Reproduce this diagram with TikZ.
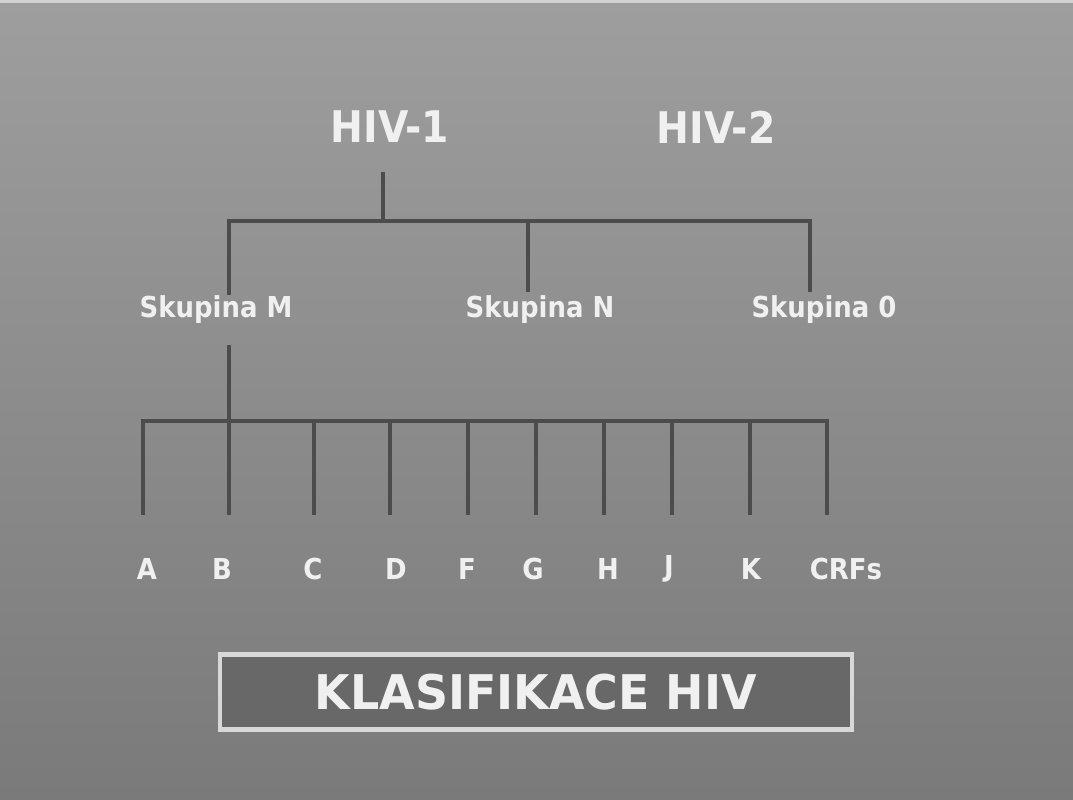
\documentclass[tikz,border=0pt]{standalone}
\usepackage{fontspec}
\newfontfamily\slidefont{DejaVu Sans}[FakeStretch=0.9]
\newfontfamily\titlefont{DejaVu Sans}[FakeStretch=0.96]
\definecolor{bgtop}{HTML}{9E9E9E}
\definecolor{bgbot}{HTML}{7A7A7A}
\definecolor{branch}{HTML}{4C4C4C}
\definecolor{boxfill}{HTML}{686868}
\definecolor{txt}{HTML}{F0F0F0}
\tikzset{
	tree/.style={draw=branch,line width=3.5pt},
	virus/.style={text=txt,font=\slidefont\bfseries\fontsize{31}{36}\selectfont,inner sep=0pt},
	group/.style={text=txt,font=\slidefont\bfseries\fontsize{20.5}{24}\selectfont,inner sep=0pt},
	titlebox/.style={draw=txt!90!black,line width=3pt,fill=boxfill,text=txt,
		font=\titlefont\bfseries\fontsize{34}{40}\selectfont,minimum width=632*0.025cm,minimum height=75*0.025cm}
}
\begin{document}
\begin{tikzpicture}[x=0.025cm,y=-0.025cm]
	\def\barone{221}
	\def\bartwo{421}
	\def\subend{515}
	\useasboundingbox (0,0) rectangle (1073,800);
	\shade[top color=bgtop,bottom color=bgbot] (0,0) rectangle (1073,800);
	\fill[gray!35] (0,0) rectangle (1073,3);
	% viruses
	\node[virus] (hiv1) at (390,127) {HIV-1};
	\node[virus] (hiv2) at (716,127) {HIV-2};
	% groups
	\node[group] (skm) at (216,310) {Skupina M};
	\node[group] (skn) at (540,310) {Skupina N};
	\node[group] (sko) at (824,310) {Skupina 0};
	\coordinate (top1) at (383,172);
	\coordinate (j1) at (383,\barone);
	\draw[tree] (top1) -- (j1);
	\draw[tree,line cap=rect] (229,\barone) coordinate (bm) -- (810,\barone) coordinate (bo);
	\coordinate (bn) at (528,\barone);
	\draw[tree] (bm) -- (229,295);
	\draw[tree] (bn) -- (528,292);
	\draw[tree] (bo) -- (810,292);
	\draw[tree] (229,345) coordinate (mdown) -- (229,\bartwo);
	% subtypes
	\draw[tree,line cap=rect] (143,\bartwo) -- (827,\bartwo);
	\foreach \x/\lx/\t/\n in {143/147/A/a,229/222/B/b,314/313/C/c,390/396/D/d,468/467/F/f,
		536/533/G/g,604/608/H/h,672/669/J/j,750/751/K/k,827/846/CRFs/crf}{
		\coordinate (s\n) at (\x,\bartwo);
		\coordinate (e\n) at (\x,\subend);
		\draw[tree] (s\n) -- (e\n);
		\node[group] (\n) at (\lx,569) {\t};
	}
	\node[titlebox] (title) at (536,692) {KLASIFIKACE HIV};
\end{tikzpicture}
\end{document}
